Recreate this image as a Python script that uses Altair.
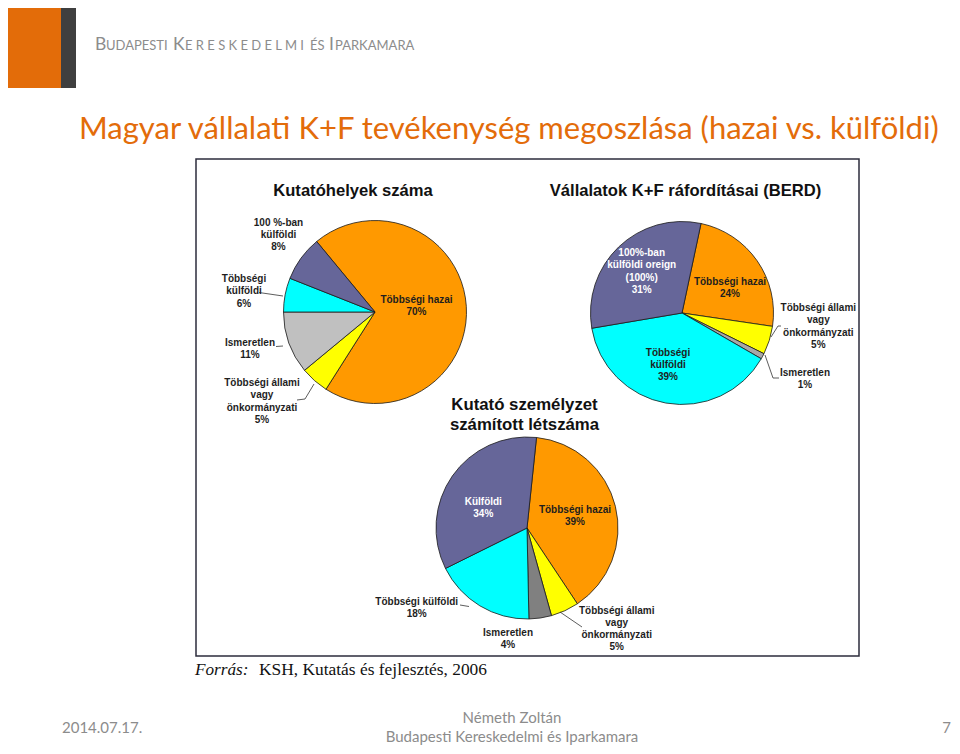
import math
import altair as alt
import pandas as pd

# ---------------- data ----------------
categories = ["Többségi hazai", "Többségi állami vagy önkormányzati", "Ismeretlen",
              "Többségi külföldi", "100%-ban külföldi"]

kutatohelyek_values = [70, 5, 11, 6, 8]
berd_values = [24, 5, 1, 39, 31]
letszam_values = [39, 5, 4, 18, 34]

kutatohelyek_names = ["Többségi hazai", "Többségi állami\nvagy\nönkormányzati", "Ismeretlen",
                      "Többségi\nkülföldi", "100 %-ban\nkülföldi"]
berd_names = ["Többségi hazai", "Többségi állami\nvagy\nönkormányzati", "Ismeretlen",
              "Többségi\nkülföldi", "100%-ban\nkülföldi oreign\n(100%)"]
letszam_names = ["Többségi hazai", "Többségi állami\nvagy\nönkormányzati", "Ismeretlen",
                 "Többségi külföldi", "Külföldi"]

pie_titles = ["Kutatóhelyek száma", "Vállalatok K+F ráfordításai (BERD)",
              "Kutató személyzet\nszámított létszáma"]

slide_title = "Magyar vállalati K+F tevékenység megoszlása (hazai vs. külföldi)"
source_label = "Forrás:"
source_text = "KSH, Kutatás és fejlesztés, 2006"
footer_date = "2014.07.17."
footer_author = "Németh Zoltán"
footer_org = "Budapesti Kereskedelmi és Iparkamara"
page_number = "7"

# ---------------- styles / layout ----------------
W, H = 944, 738
OX, OY = 8, 8
XS = alt.Scale(domain=[OX, OX + W], range=[0, W])
YS = alt.Scale(domain=[OY, OY + H], range=[0, H])

base_colors = ["#FF9900", "#FFFF00", None, "#00FFFF", "#666699"]
pies = [
    dict(values=kutatohelyek_values, names=kutatohelyek_names, cx=375, cy=312, r=91.5,
         start=320.4, gray="#C0C0C0",
         labels=[(416.5, 299.5), (262, 383.3), (250, 343.3), (244, 279.3), (278.5, 222.7)],
         white=[False] * 5,
         title=(353, 191, 16.6)),
    dict(values=berd_values, names=berd_names, cx=682, cy=313, r=91.5,
         start=12, gray="#A8A8A8",
         labels=[(730, 281.7), (818.3, 308.3), (805, 373.3), (668, 352.7), (641.7, 253.3)],
         white=[False, False, False, False, True],
         title=(685.5, 191, 16.6)),
    dict(values=letszam_values, names=letszam_names, cx=527, cy=528, r=91,
         start=6, gray="#808080",
         labels=[(575, 510), (616.7, 610.7), (508, 633.3), (416.7, 601.7), (483.3, 501.7)],
         white=[False, False, False, False, True],
         title=(524.5, 405, 16.8)),
]

leaders = [
    # pie 1
    (259, 292.5, 283, 296), (276, 346.5, 283, 346),
    (297, 400, 305, 399), (305, 399, 314, 384),
    # pie 2
    (771, 337, 778, 326), (778, 326, 781, 326),
    (765, 355, 773, 378), (773, 378, 779, 378),
    # pie 3
    (460, 605, 469, 606.5),
    (560, 612, 582, 627),
]

layers = []

# frame around the charts
frame_df = pd.DataFrame([dict(x=196, x2=859, y=159, y2=656)])
layers.append(alt.Chart(frame_df).mark_rect(fill="white", stroke="#2d2d3c", strokeWidth=1.5).encode(
    x=alt.X("x:Q", scale=XS, axis=None), x2="x2:Q",
    y=alt.Y("y:Q", scale=YS, axis=None), y2="y2:Q"))

# header blocks
hdr_df = pd.DataFrame([dict(x=OX, x2=61, y=OY, y2=88, fill="#E36C09"),
                       dict(x=61, x2=76, y=OY, y2=88, fill="#3F3F3F")])
layers.append(alt.Chart(hdr_df).mark_rect().encode(
    x=alt.X("x:Q", scale=XS, axis=None), x2="x2:Q",
    y=alt.Y("y:Q", scale=YS, axis=None), y2="y2:Q",
    color=alt.Color("fill:N", scale=None)))

# pies
for p in pies:
    rows = []
    for i, (cat, v) in enumerate(zip(categories, p["values"])):
        col = base_colors[i] if base_colors[i] else p["gray"]
        rows.append(dict(cat=cat, value=v, order=i, fill=col))
    df = pd.DataFrame(rows)
    s = math.radians(p["start"])
    layers.append(alt.Chart(df).mark_arc(radius=p["r"], stroke="#1a1a1a", strokeWidth=0.8).encode(
        theta=alt.Theta("value:Q", stack=True, scale=alt.Scale(domain=[0, 100], range=[s, s + 2 * math.pi])),
        order=alt.Order("order:Q"),
        color=alt.Color("fill:N", scale=None),
        x=alt.value(p["cx"] - OX), y=alt.value(p["cy"] - OY)))

# leader lines
lead_df = pd.DataFrame([dict(x=a, y=b, x2=c, y2=d) for a, b, c, d in leaders])
layers.append(alt.Chart(lead_df).mark_rule(color="#333333", strokeWidth=0.8).encode(
    x=alt.X("x:Q", scale=XS, axis=None), x2="x2:Q",
    y=alt.Y("y:Q", scale=YS, axis=None), y2="y2:Q"))

# slice labels
lab_rows = []
for p in pies:
    for i, (name, v) in enumerate(zip(p["names"], p["values"])):
        lx, ly = p["labels"][i]
        lab_rows.append(dict(x=lx, y=ly - 5, text=f"{name}\n{v}%",
                             fill="#ffffff" if p["white"][i] else "#1e1e1e"))
lab_df = pd.DataFrame(lab_rows)
layers.append(alt.Chart(lab_df).mark_text(
    align="center", baseline="top", font="Liberation Sans", fontWeight="bold",
    fontSize=10, lineHeight=12.2, lineBreak="\n").encode(
    x=alt.X("x:Q", scale=XS, axis=None), y=alt.Y("y:Q", scale=YS, axis=None),
    text="text:N", color=alt.Color("fill:N", scale=None)))

# pie titles
tit_rows = []
for p, t in zip(pies, pie_titles):
    tx, ty, ts = p["title"]
    for j, line in enumerate(t.split("\n")):
        tit_rows.append(dict(x=tx, y=ty + j * 20, text=line, size=ts))
tit_df = pd.DataFrame(tit_rows)
layers.append(alt.Chart(tit_df).mark_text(
    align="center", baseline="middle", font="Liberation Sans", fontWeight="bold", color="#111111").encode(
    x=alt.X("x:Q", scale=XS, axis=None), y=alt.Y("y:Q", scale=YS, axis=None),
    text="text:N", size=alt.Size("size:Q", scale=None, legend=None)))

# source
layers.append(alt.Chart(pd.DataFrame([dict(x=195, y=670, text=source_label)])).mark_text(
    align="left", baseline="middle", font="Liberation Serif", fontStyle="italic", fontSize=17.2,
    color="#111111").encode(
    x=alt.X("x:Q", scale=XS, axis=None), y=alt.Y("y:Q", scale=YS, axis=None), text="text:N"))
layers.append(alt.Chart(pd.DataFrame([dict(x=259, y=670, text=source_text)])).mark_text(
    align="left", baseline="middle", font="Liberation Serif", fontSize=17.4, color="#111111").encode(
    x=alt.X("x:Q", scale=XS, axis=None), y=alt.Y("y:Q", scale=YS, axis=None), text="text:N"))

# slide title
layers.append(alt.Chart(pd.DataFrame([dict(x=79, y=138.5, text=slide_title)])).mark_text(
    align="left", baseline="alphabetic", font="Lato", fontSize=31, color="#E36C0A").encode(
    x=alt.X("x:Q", scale=XS, axis=None), y=alt.Y("y:Q", scale=YS, axis=None), text="text:N"))

# header small caps
hdr_txt = pd.DataFrame([
    dict(x=95, text="B", size=17.5),
    dict(x=106, text="UDAPESTI", size=13),
    dict(x=173, text="K", size=17.5),
    dict(x=185, text=" ".join("ERESKEDELMI"), size=13),
    dict(x=310, text="ÉS", size=13),
    dict(x=329, text="I", size=17.5),
    dict(x=335, text="PARKAMARA", size=13),
])
hdr_txt["y"] = 50
layers.append(alt.Chart(hdr_txt).mark_text(
    align="left", baseline="alphabetic", font="Lato", color="#8C8C8C").encode(
    x=alt.X("x:Q", scale=XS, axis=None), y=alt.Y("y:Q", scale=YS, axis=None),
    text="text:N", size=alt.Size("size:Q", scale=None, legend=None)))

# footer
foot = pd.DataFrame([
    dict(x=62, y=728, text=footer_date, align="left"),
    dict(x=512, y=718, text=footer_author, align="center"),
    dict(x=512, y=737, text=footer_org, align="center"),
])
for al in ["left", "center"]:
    layers.append(alt.Chart(foot[foot["align"] == al]).mark_text(
        align=al, baseline="middle", font="Lato", fontSize=15, color="#8C8C8C").encode(
        x=alt.X("x:Q", scale=XS, axis=None), y=alt.Y("y:Q", scale=YS, axis=None), text="text:N"))
layers.append(alt.Chart(pd.DataFrame([dict(x=951, y=728, text=page_number)])).mark_text(
    align="right", baseline="middle", font="Lato", fontSize=15, color="#8C8C8C").encode(
    x=alt.X("x:Q", scale=XS, axis=None), y=alt.Y("y:Q", scale=YS, axis=None), text="text:N"))

chart = alt.layer(*layers).resolve_scale(theta="independent").properties(
    width=W, height=H, padding=0, background="white",
    autosize=alt.AutoSizeParams(type="none"),
).configure_view(stroke=None)

chart.save("out.html", embed_options={"renderer": "svg", "actions": False})
